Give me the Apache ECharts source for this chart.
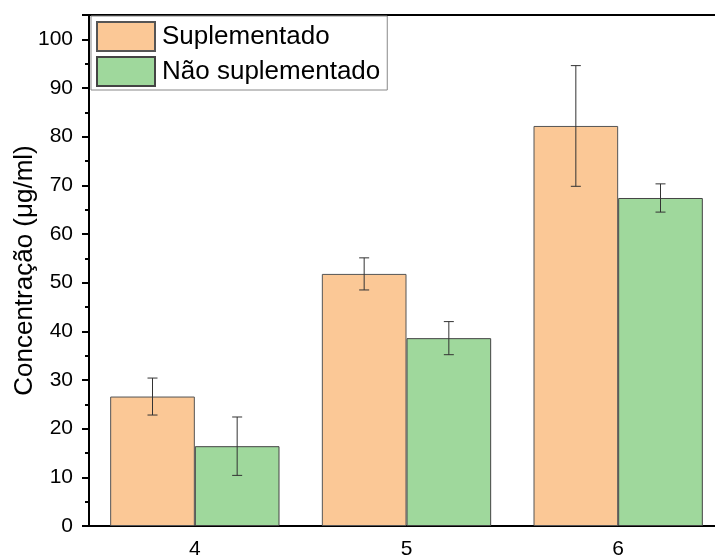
<!DOCTYPE html>
<html><head><meta charset="utf-8">
<script src="https://cdn.jsdelivr.net/npm/echarts@6/dist/echarts.min.js"></script>
<style>html,body{margin:0;padding:0;background:#fff}#c{width:715px;height:560px}</style>
</head><body><div id="c"></div>
<script>
const categories = ['4', '5', '6'];
const seriesNames = ['Suplementado', 'Não suplementado'];
const suplementado = [26.6, 51.8, 82.2];
const suplementadoErr = [3.8, 3.3, 12.4];
const naoSuplementado = [16.4, 38.6, 67.4];
const naoSuplementadoErr = [6.0, 3.4, 2.9];
const yTicks = [0, 10, 20, 30, 40, 50, 60, 70, 80, 90, 100];

const FONT = 'Liberation Sans, Arial, sans-serif';
const chart = echarts.init(document.getElementById('c'));

function errSeries(vals, errs, offset) {
  return {
    type: 'custom',
    xAxisIndex: 0,
    z: 10,
    silent: true,
    data: vals.map((v, i) => [i, v, errs[i]]),
    encode: { x: 0, y: 1 },
    renderItem: function (params, api) {
      const i = api.value(0), v = api.value(1), e = api.value(2);
      const bw = api.size([1, 0])[0];
      const hi = api.coord([i, v + e]);
      const lo = api.coord([i, v - e]);
      const x = hi[0] + offset * bw;
      const cap = 5;
      const style = { stroke: '#333', lineWidth: 1 };
      return {
        type: 'group',
        children: [
          { type: 'line', shape: { x1: x, y1: hi[1], x2: x, y2: lo[1] }, style },
          { type: 'line', shape: { x1: x - cap, y1: hi[1], x2: x + cap, y2: hi[1] }, style },
          { type: 'line', shape: { x1: x - cap, y1: lo[1], x2: x + cap, y2: lo[1] }, style }
        ]
      };
    }
  };
}

chart.setOption({
  animation: false,
  backgroundColor: '#fff',
  textStyle: { fontFamily: FONT },
  grid: { left: 89, top: 15, width: 635, height: 511, outerBoundsMode: 'none', containLabel: false,
    show: true, borderColor: '#000', borderWidth: 2, backgroundColor: 'transparent' },
  legend: {
    orient: 'vertical', left: 91, top: 16,
    icon: 'rect',
    itemWidth: 58, itemHeight: 29, itemGap: 4,
    padding: [5, 7, 3, 5],
    borderColor: '#888', borderWidth: 1,
    backgroundColor: '#fff',
    textStyle: { fontSize: 26, color: '#000', fontFamily: FONT, padding: [0, 0, 0, 2] },
    data: seriesNames
  },
  xAxis: [{
    type: 'category', data: categories, position: 'bottom',
    axisLine: { lineStyle: { color: '#000', width: 2 } },
    axisTick: { alignWithLabel: true, length: 9, lineStyle: { color: '#000', width: 2 } },
    axisLabel: { fontSize: 21, color: '#000', margin: 13, fontFamily: FONT },
    splitLine: { show: false }
  }, {
    type: 'category', data: categories, position: 'top', offset: -511,
    axisLine: { show: false },
    axisTick: { inside: true, length: 5, lineStyle: { color: '#000', width: 2 } },
    axisLabel: { show: false },
    splitLine: { show: false }
  }],
  yAxis: {
    type: 'value', min: 0, max: 105, interval: 10,
    name: 'Concentração (μg/ml)', nameLocation: 'middle', nameGap: 51, nameMoveOverlap: false,
    nameTextStyle: { fontSize: 26, color: '#000', fontFamily: FONT },
    axisLine: { show: true, lineStyle: { color: '#000', width: 2 } },
    axisTick: { show: true, length: 7, lineStyle: { color: '#000', width: 2 } },
    minorTick: { show: true, splitNumber: 2, length: 4, lineStyle: { color: '#000', width: 2 } },
    axisLabel: { fontSize: 21, color: '#000', margin: 16, fontFamily: FONT, showMaxLabel: false,
      formatter: v => yTicks.includes(v) ? String(v) : '' },
    splitLine: { show: false }
  },
  series: [{
    name: seriesNames[0], type: 'bar', data: suplementado,
    barGap: '0%', barCategoryGap: '20%',
    itemStyle: { color: '#FBC896', borderColor: '#555', borderWidth: 1 }
  }, {
    name: seriesNames[1], type: 'bar', data: naoSuplementado,
    barGap: '0%', barCategoryGap: '20%',
    itemStyle: { color: '#9FD89C', borderColor: '#444', borderWidth: 1 }
  },
  errSeries(suplementado, suplementadoErr, -0.2),
  errSeries(naoSuplementado, naoSuplementadoErr, 0.2)
  ]
});
</script></body></html>
